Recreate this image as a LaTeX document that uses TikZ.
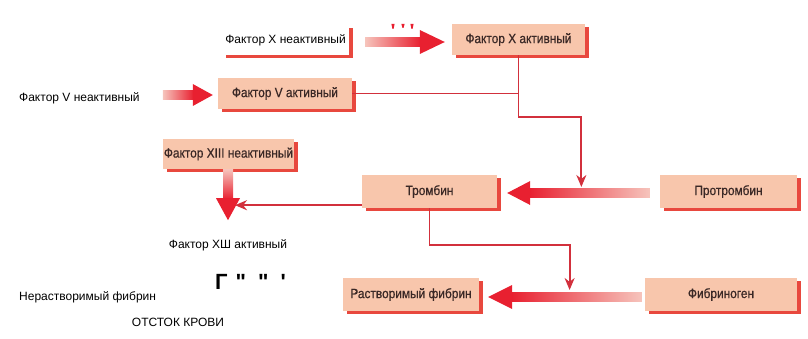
\documentclass[tikz,border=0pt]{standalone}
\usepackage{fontspec}
\setmainfont{Liberation Sans}
\newfontfamily\boxfont[FakeStretch=0.88,FakeBold=0.6]{Liberation Sans}
\newfontfamily\quotefont[Ligatures=TeXOff]{Liberation Sans}
\usetikzlibrary{shadows,arrows.meta,calc}
\definecolor{peach}{HTML}{F8C6AC}
\definecolor{shred}{HTML}{E8483E}
\definecolor{boxtext}{HTML}{3A2826}
\definecolor{thinred}{HTML}{D2303C}
\definecolor{fatred}{HTML}{E82030}
\definecolor{pale}{HTML}{F6C4BC}
\tikzset{
  stepbox/.style={fill=peach, general shadow={fill=shred, shadow xshift=4pt, shadow yshift=-3pt},
    inner sep=0pt, font=\boxfont\fontsize{13.5}{15}\selectfont, text=boxtext},
  whitebox/.style={fill=white, general shadow={fill=shred, shadow xshift=4pt, shadow yshift=-3pt},
    inner sep=0pt, font=\fontsize{12}{14}\selectfont, text=black},
  plain/.style={font=\fontsize{12}{14}\selectfont, text=black, inner sep=0pt},
  link/.style={draw=thinred, line width=1.9pt},
  linkarrow/.style={link, -{Stealth[length=12pt,width=10pt]}},
}
\begin{document}
\begin{tikzpicture}[x=1pt,y=1pt]
\useasboundingbox (0,0) rectangle (808,338);
% boxes
\node[whitebox, minimum width=127pt, minimum height=30pt] (xin) at (285.5,298) {Фактор X неактивный};
\node[stepbox, minimum width=133pt, minimum height=31pt] (xact) at (518.5,298.5) {Фактор X активный};
\node[stepbox, minimum width=134pt, minimum height=31pt] (vact) at (285,244.5) {Фактор V активный};
\node[stepbox, minimum width=131pt, minimum height=30pt] (xiii) at (228.5,184) {Фактор XIII неактивный};
\node[stepbox, minimum width=135pt, minimum height=33pt] (tromb) at (429.5,146.5) {Тромбин};
\node[stepbox, minimum width=137pt, minimum height=33pt] (protro) at (728.5,146.5) {Протромбин};
\node[stepbox, minimum width=136pt, minimum height=33pt] (rastv) at (411,43.5) {Растворимый фибрин};
\node[stepbox, minimum width=152pt, minimum height=33pt] (fibr) at (721,43.5) {Фибриноген};
% plain labels
\node[plain, anchor=west] (vin) at (19,240) {Фактор V неактивный};
\node[plain] (xiiiact) at (228,93) {Фактор ХШ активный};
\node[plain, anchor=west] (nerast) at (19,41) {Нерастворимый фибрин};
\node[plain] (otstok) at (178,16) {ОТСТОК КРОВИ};
\node[inner sep=0pt, anchor=base west, font=\quotefont\bfseries\fontsize{22}{24}\selectfont] (quotes) at (215,49) {Г\hspace{8pt}"\hspace{12pt}"\hspace{12pt}'};
% tick marks at top
\coordinate (t1) at (393,314);
\coordinate (t2) at (403,314);
\coordinate (t3) at (412,314);
\foreach \t/\l in {t1/5,t2/4,t3/5}{
  \fill[fatred] ($(\t)+(-1.6,0)$) -- ($(\t)+(1.6,0)$) -- ($(\t)+(0.5,-\l)$) -- ($(\t)+(-0.5,-\l)$) -- cycle;
}
% fat arrow 1: X inactive -> X active
\coordinate (a1s) at ($(xin.east)+(16,-2)$);
\coordinate (a1t) at ($(xact.west)+(-7,-2.5)$);
\shade[left color=pale, right color=fatred] ($(a1s)+(0,-4.5)$) rectangle ($(a1t)+(-24,4.5)$);
\fill[fatred] ($(a1t)+(-25,12)$) -- (a1t) -- ($(a1t)+(-25,-12)$) -- cycle;
% fat arrow 2: V inactive -> V active
\coordinate (a2s) at ($(vin.east)+(23,3)$);
\coordinate (a2t) at ($(vact.west)+(-5,-1.5)$);
\shade[left color=pale, right color=fatred] ($(a2s)+(0,-4.5)$) rectangle ($(a2t)+(-19,4.5)$);
\fill[fatred] ($(a2t)+(-20,11)$) -- (a2t) -- ($(a2t)+(-20,-11)$) -- cycle;
% fat arrow 3: Prothrombin -> Thrombin
\coordinate (a3s) at ($(protro.west)+(-10,-1.5)$);
\coordinate (a3t) at ($(tromb.east)+(10,-1.5)$);
\shade[left color=fatred, right color=pale] ($(a3t)+(22,-4.5)$) rectangle ($(a3s)+(0,4.5)$);
\fill[fatred] ($(a3t)+(23,12)$) -- (a3t) -- ($(a3t)+(23,-12)$) -- cycle;
% fat arrow 4: Fibrinogen -> soluble fibrin
\coordinate (a4s) at ($(fibr.west)+(-3,-2.5)$);
\coordinate (a4t) at ($(rastv.east)+(9,-2.5)$);
\shade[left color=fatred, right color=pale] ($(a4t)+(23,-4.5)$) rectangle ($(a4s)+(0,4.5)$);
\fill[fatred] ($(a4t)+(24,12)$) -- (a4t) -- ($(a4t)+(24,-12)$) -- cycle;
% fat arrow 5: XIII down
\coordinate (a5s) at ($(xiii.south)+(-0.5,0)$);
\coordinate (a5t) at ($(xiii.south)+(-0.5,-51)$);
\shade[top color=pale, bottom color=fatred] ($(a5s)+(-5,0)$) rectangle ($(a5t)+(5,21)$);
\fill[fatred] ($(a5t)+(-12,22)$) -- (a5t) -- ($(a5t)+(12,22)$) -- cycle;
% thin connectors
\coordinate (j1) at ($(a3t)!0.52!(a3s)+(0,6)$);
\draw[linkarrow] (xact.south) -- ++(0,-62) -| (j1);
\draw[link] (vact.east) -- (vact.east -| xact.south);
\coordinate (j3) at ($(a5s)+(7,-36)$);
\draw[linkarrow] (tromb.west |- j3) -- (j3);
\coordinate (j4) at ($(a4t)!0.53!(a4s)+(0,7)$);
\draw[linkarrow] (tromb.south) -- ++(0,-37) -| (j4);
\end{tikzpicture}
\end{document}
